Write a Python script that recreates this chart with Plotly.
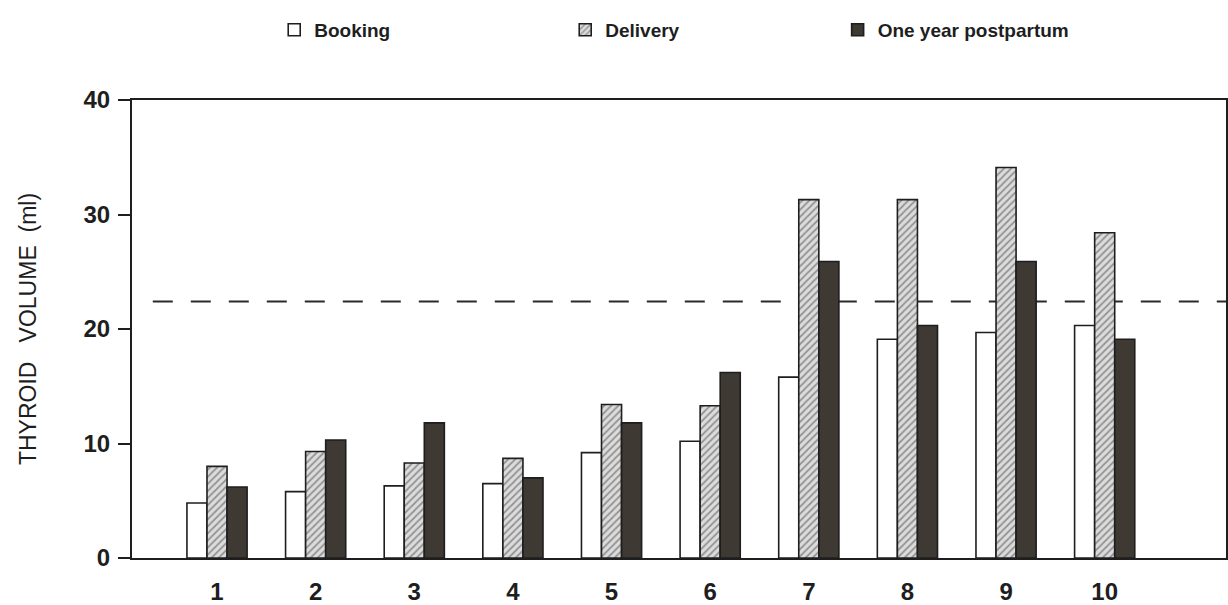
import plotly.graph_objects as go

# Thyroid volume (ml) per subject at three time points
subjects = ["1", "2", "3", "4", "5", "6", "7", "8", "9", "10"]
booking = [4.8, 5.8, 6.3, 6.5, 9.2, 10.2, 15.8, 19.1, 19.7, 20.3]
delivery = [8.0, 9.3, 8.3, 8.7, 13.4, 13.3, 31.3, 31.3, 34.1, 28.4]
postpartum = [6.2, 10.3, 11.8, 7.0, 11.8, 16.2, 25.9, 20.3, 25.9, 19.1]
y_ticks = [0, 10, 20, 30, 40]
upper_limit = 22.4  # upper limit of normal thyroid volume

FONT = "Liberation Sans, Arial, Helvetica, sans-serif"
INK = "#1e1e1e"

fig = go.Figure()

fig.add_trace(go.Bar(
    name="Booking", x=subjects, y=booking, legend="legend",
    marker=dict(color="white", line=dict(color=INK, width=1.6)),
))
fig.add_trace(go.Bar(
    name="Delivery", x=subjects, y=delivery, legend="legend2",
    marker=dict(
        color="#d8d8d8",
        line=dict(color=INK, width=1.6),
        pattern=dict(shape="/", fgcolor="#4a4a4a", bgcolor="#dcdcdc",
                     size=5, solidity=0.35),
    ),
))
fig.add_trace(go.Bar(
    name="One year postpartum", x=subjects, y=postpartum, legend="legend3",
    marker=dict(color="#3e3932", line=dict(color=INK, width=1.6)),
))

# dashed reference line for the normal upper limit
fig.add_shape(
    type="line", xref="paper", yref="y", x0=0.019, x1=1.0,
    y0=upper_limit, y1=upper_limit, layer="below",
    line=dict(color="#2a2a2a", width=2, dash="20px,18px"),
)

legend_font = dict(family=FONT, size=19, color=INK, weight="bold")
legend_common = dict(orientation="h", yanchor="middle", y=1.153,
                     xanchor="left", font=legend_font,
                     bgcolor="rgba(0,0,0,0)", borderwidth=0)

fig.update_layout(
    width=1228, height=605,
    margin=dict(l=132, r=2, t=100, b=47),
    paper_bgcolor="white", plot_bgcolor="white",
    barmode="group", bargap=0.39, bargroupgap=0.0,
    font=dict(family=FONT, color=INK),
    showlegend=True,
    legend=dict(x=0.130, **legend_common),
    legend2=dict(x=0.396, **legend_common),
    legend3=dict(x=0.645, **legend_common),
    xaxis=dict(
        type="category", range=[-0.862, 10.23], automargin=False,
        showline=True, linecolor=INK, linewidth=2, mirror=True,
        showgrid=False, ticks="", zeroline=False,
        tickfont=dict(family=FONT, size=24, color=INK, weight="bold"),
        ticklabelstandoff=11,
    ),
    yaxis=dict(
        range=[0, 40], tickvals=y_ticks, automargin=False,
        showline=True, linecolor=INK, linewidth=2, mirror=True,
        showgrid=False, zeroline=False,
        ticks="outside", ticklen=12, tickwidth=2, tickcolor=INK,
        tickfont=dict(family=FONT, size=24, color=INK, weight="bold"),
        ticklabelstandoff=3,
        title=dict(
            text="THYROID\u00a0\u00a0\u00a0VOLUME\u00a0\u00a0(ml)",
            font=dict(family=FONT, size=23, color=INK),
            standoff=40,
        ),
    ),
)

fig.write_html("out.html")
